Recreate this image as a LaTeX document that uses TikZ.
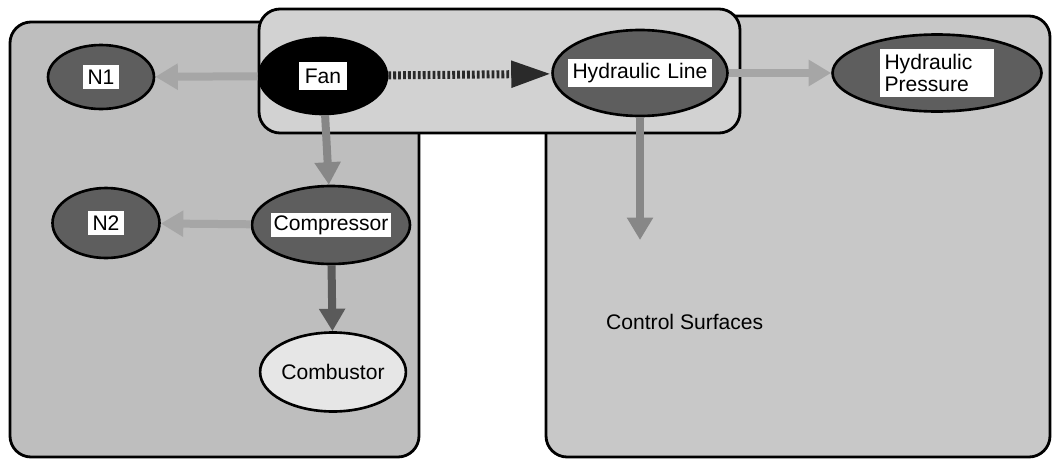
\documentclass[tikz,border=0pt]{standalone}
\usepackage{fontspec}
\setmainfont{Liberation Sans}
\usepackage{tikz}
\usetikzlibrary{arrows.meta,shapes.geometric}
\definecolor{boxengine}{HTML}{BEBEBE}
\definecolor{boxfan}{HTML}{D2D2D2}
\definecolor{boxcontrol}{HTML}{C8C8C8}
\definecolor{partdark}{HTML}{5E5E5E}
\definecolor{partlight}{HTML}{E6E6E6}
\definecolor{flowlight}{HTML}{A6A6A6}
\definecolor{flowmid}{HTML}{878787}
\definecolor{flowdark}{HTML}{5A5A5A}
\definecolor{flowhatch}{HTML}{2A2A2A}

\begin{document}
\begin{tikzpicture}[
  x=0.02cm, y=-0.02cm,
  font=\fontsize{12}{13}\selectfont,
  region/.style={draw, line width=1.6pt, rounded corners=12pt},
  part/.style={ellipse, draw, line width=1.5pt, fill=partdark, inner sep=0pt},
  plate/.style={fill=white, inner sep=2.5pt, align=left},
  flow/.style={-{Triangle[length=0.45cm,width=0.5cm]}, line width=0.16cm},
  flowlong/.style={-{Triangle[length=0.8cm,width=0.5cm]}, line width=0.16cm,
                   dash pattern=on 1.6pt off 1.2pt}
]
\useasboundingbox (0,0) rectangle (1054,460);

% subsystem regions
\draw[region, fill=boxengine] (10,22) rectangle (419,457);
\draw[region, fill=boxcontrol] (546,16) rectangle (1050,457);
\draw[region, fill=boxfan] (259,9) rectangle (740,133);

% components
\node[part, fill=black, minimum width=2.56cm, minimum height=1.52cm,
      label={[plate, inner sep=3.5pt]center:Fan}] (fan) at (323,76) {};
\node[part, minimum width=2.12cm, minimum height=1.28cm,
      label={[plate]center:N1}] (n1) at (101,77) {};
\node[part, minimum width=3.5cm, minimum height=1.72cm,
      label={[plate, text width=2.7cm]center:Hydraulic Line}] (hyd) at (640,73) {};
\node[part, minimum width=4.18cm, minimum height=1.54cm,
      label={[plate, text width=2.1cm]center:Hydraulic\\Pressure}] (press) at (937,73) {};
\node[part, minimum width=2.14cm, minimum height=1.4cm,
      label={[plate]center:N2}] (n2) at (106,223) {};
\node[part, minimum width=3.16cm, minimum height=1.56cm,
      label={[plate, inner sep=1.5pt]center:Compressor}] (comp) at (331,225) {};
\node[part, fill=partlight, minimum width=2.86cm, minimum height=1.58cm]
  (comb) at (333,372) {Combustor};

\node[anchor=west] (ctrl) at (600,322) {Control Surfaces};
\coordinate (ctrltip) at (640,240);

% propagation paths
\draw[flow, flowlight] (fan) -- (n1);
\draw[flowlong, flowhatch] (fan) -- (hyd);
\draw[flow, flowlight] (hyd) -- (press);
\draw[flow, flowmid] (fan) -- (comp);
\draw[flow, flowlight] (comp) -- (n2);
\draw[flow, flowdark] (comp) -- (comb);
\draw[flow, flowmid] (hyd) -- (ctrltip);
\end{tikzpicture}
\end{document}
